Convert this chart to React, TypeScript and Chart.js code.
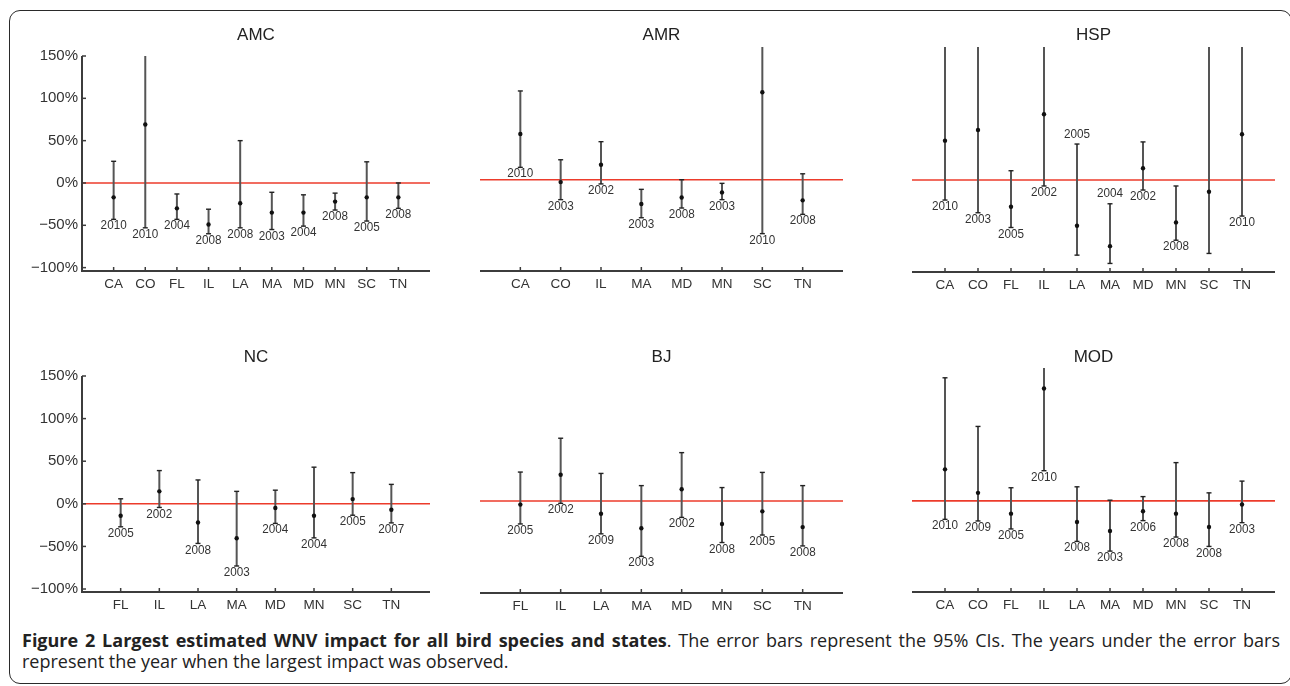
import React, { useEffect, useRef } from "react";
import { Chart, registerables } from "chart.js";

Chart.register(...registerables);

// ---------- data ----------
const statesAMC = ["CA", "CO", "FL", "IL", "LA", "MA", "MD", "MN", "SC", "TN"];
const estAMC = [-17, 69, -30, -49, -24, -35, -35, -22, -17, -17];
const lowAMC = [-43, -53, -43, -60, -53, -55, -51, -32, -45, -30];
const highAMC = [25.6, 160, -13, -31, 50, -11, -14, -12, 25, 0];
const yearsAMC = ["2010", "2010", "2004", "2008", "2008", "2003", "2004", "2008", "2005", "2008"];

const statesAMR = ["CA", "CO", "IL", "MA", "MD", "MN", "SC", "TN"];
const estAMR = [54, -2.8, 17.7, -28.7, -21, -15, 103.5, -24.4];
const lowAMR = [14.6, -23.6, -5, -45, -33.5, -23.6, -63.8, -41];
const highAMR = [105, 23.6, 45, -11.4, 0, -4.3, 200, 7];
const yearsAMR = ["2010", "2003", "2002", "2003", "2008", "2003", "2010", "2008"];

const statesHSP = ["CA", "CO", "FL", "IL", "LA", "MA", "MD", "MN", "SC", "TN"];
const estHSP = [46.5, 59, -31.5, 77.6, -54, -78, 14, -50, -13.8, 54];
const lowHSP = [-23.6, -38.6, -56, -7, -88.6, -98.4, -11.8, -71, -86.6, -42.5];
const highHSP = [200, 200, 11, 200, 42.5, -28, 45, -7, 200, 200];
const yearsHSP = ["2010", "2003", "2005", "2002", "2005", "2004", "2002", "2008", "", "2010"];

const statesNC = ["FL", "IL", "LA", "MA", "MD", "MN", "SC", "TN"];
const estNC = [-14, 14.6, -22, -40.5, -5, -14, 5.5, -7];
const lowNC = [-27, -4.3, -46.5, -73, -23, -40, -13.4, -22.4];
const highNC = [5.9, 39, 28, 14.6, 16, 43, 36.6, 22.8];
const yearsNC = ["2005", "2002", "2008", "2003", "2004", "2004", "2005", "2007"];

const statesBJ = ["FL", "IL", "LA", "MA", "MD", "MN", "SC", "TN"];
const estBJ = [-4.3, 30.7, -15, -32, 13.8, -27, -12.2, -30.7];
const lowBJ = [-27, -2.8, -38.6, -65, -19.3, -48.8, -40, -52.8];
const highBJ = [33.9, 73.6, 32.3, 18, 56.7, 15.7, 33.5, 18];
const yearsBJ = ["2005", "2002", "2009", "2003", "2002", "2008", "2005", "2008"];

const statesMOD = ["CA", "CO", "FL", "IL", "LA", "MA", "MD", "MN", "SC", "TN"];
const estMOD = [37, 9.4, -15, 132, -24.8, -35.4, -12.2, -15, -30.7, -4.3];
const lowMOD = [-21.7, -23.6, -33, 35.4, -47.6, -59, -23.2, -42.5, -53.5, -25.6];
const highMOD = [144.5, 87.4, 15.4, 200, 16.5, 0.8, 5, 44.9, 9.4, 23.2];
const yearsMOD = ["2010", "2009", "2005", "2010", "2008", "2003", "2006", "2008", "2008", "2003"];

const yTickValues = [-100, -50, 0, 50, 100, 150];

const captionBold = "Figure 2 Largest estimated WNV impact for all bird species and states";
const captionRest1 = ". The error bars represent the 95% CIs. The years under the error bars";
const captionRest2 = "represent the year when the largest impact was observed.";

// ---------- layout (not data) ----------
type Panel = {
  title: string;
  states: string[];
  est: number[];
  low: number[];
  high: number[];
  years: string[];
  left: number;
  top: number;
  width: number;
  height: number;
  padL: number;
  padR: number;
  yAxis: boolean;
  yMin: number;
  yMax: number;
  titleTop: number;
  titleBottom: number;
  xH: number;
};

const panels: Panel[] = [
  { title: "AMC", states: statesAMC, est: estAMC, low: lowAMC, high: highAMC, years: yearsAMC,
    left: 0, top: 10, width: 440, height: 290, padL: 0, padR: 10, yAxis: true, yMin: -104, yMax: 150,
    titleTop: 14.8, titleBottom: 10.8, xH: 29 },
  { title: "AMR", states: statesAMR, est: estAMR, low: lowAMR, high: highAMR, years: yearsAMR,
    left: 440, top: 10, width: 430, height: 290, padL: 40, padR: 27, yAxis: false, yMin: -108, yMax: 157,
    titleTop: 14.8, titleBottom: 1.8, xH: 29 },
  { title: "HSP", states: statesHSP, est: estHSP, low: lowHSP, high: highHSP, years: yearsHSP,
    left: 860, top: 10, width: 430, height: 290, padL: 52, padR: 15, yAxis: false, yMin: -108.5, yMax: 157,
    titleTop: 14.8, titleBottom: 1.8, xH: 28 },
  { title: "NC", states: statesNC, est: estNC, low: lowNC, high: highNC, years: yearsNC,
    left: 0, top: 330, width: 440, height: 290, padL: 0, padR: 10, yAxis: true, yMin: -103.5, yMax: 150,
    titleTop: 16.8, titleBottom: 8.8, xH: 28 },
  { title: "BJ", states: statesBJ, est: estBJ, low: lowBJ, high: highBJ, years: yearsBJ,
    left: 440, top: 330, width: 430, height: 290, padL: 40, padR: 27, yAxis: false, yMin: -108, yMax: 156,
    titleTop: 16.8, titleBottom: 0.8, xH: 27 },
  { title: "MOD", states: statesMOD, est: estMOD, low: lowMOD, high: highMOD, years: yearsMOD,
    left: 860, top: 330, width: 430, height: 290, padL: 52, padR: 15, yAxis: false, yMin: -107, yMax: 156,
    titleTop: 16.8, titleBottom: 0.8, xH: 28 },
];

const FONT = '"Liberation Sans", Arial, sans-serif';
const fmtPct = (v: number) => (v < 0 ? "\u2212" + Math.abs(v) : String(v)) + "%";

function makePlugin(p: Panel) {
  return {
    id: "wnvErrorBars",
    beforeDatasetsDraw(chart: any) {
      const { ctx, chartArea: a, scales } = chart;
      const x = scales.x;
      const y = scales.y;
      ctx.save();
      // zero reference line
      const y0 = y.getPixelForValue(0);
      ctx.strokeStyle = "#ec3b2b";
      ctx.lineWidth = 1.6;
      ctx.beginPath();
      ctx.moveTo(a.left, y0);
      ctx.lineTo(a.right, y0);
      ctx.stroke();

      // axes
      ctx.strokeStyle = "#3c3c3c";
      ctx.lineWidth = 2;
      ctx.beginPath();
      ctx.moveTo(a.left - (p.yAxis ? 1 : 0), a.bottom);
      ctx.lineTo(a.right, a.bottom);
      ctx.stroke();
      ctx.lineWidth = 1.5;
      p.states.forEach((_, i) => {
        const px = x.getPixelForValue(i + 1);
        ctx.beginPath();
        ctx.moveTo(px, a.bottom);
        ctx.lineTo(px, a.bottom - 4);
        ctx.stroke();
      });
      if (p.yAxis) {
        ctx.lineWidth = 2;
        ctx.beginPath();
        ctx.moveTo(a.left, y.getPixelForValue(yTickValues[yTickValues.length - 1]));
        ctx.lineTo(a.left, a.bottom);
        ctx.stroke();
        ctx.lineWidth = 1.5;
        yTickValues.forEach((v) => {
          const py = y.getPixelForValue(v);
          ctx.beginPath();
          ctx.moveTo(a.left, py);
          ctx.lineTo(a.left + 4, py);
          ctx.stroke();
        });
      }

      // error bars
      p.states.forEach((_, i) => {
        const px = x.getPixelForValue(i + 1);
        const hiClipped = p.high[i] > y.max;
        const pyHi = y.getPixelForValue(Math.min(p.high[i], y.max));
        const pyLo = y.getPixelForValue(Math.max(p.low[i], y.min));
        ctx.strokeStyle = "#555";
        ctx.lineWidth = 2;
        ctx.beginPath();
        ctx.moveTo(px, pyHi);
        ctx.lineTo(px, pyLo);
        ctx.stroke();
        ctx.strokeStyle = "#222";
        ctx.lineWidth = 1.4;
        if (!hiClipped) {
          ctx.beginPath();
          ctx.moveTo(px - 2.5, pyHi);
          ctx.lineTo(px + 2.5, pyHi);
          ctx.stroke();
        }
        ctx.beginPath();
        ctx.moveTo(px - 2.5, pyLo);
        ctx.lineTo(px + 2.5, pyLo);
        ctx.stroke();
      });
      ctx.restore();
    },
    afterDatasetsDraw(chart: any) {
      const { ctx, scales } = chart;
      const x = scales.x;
      const y = scales.y;
      ctx.save();
      ctx.font = `13px ${FONT}`;
      ctx.fillStyle = "#333";
      ctx.textAlign = "center";
      ctx.textBaseline = "middle";
      p.states.forEach((_, i) => {
        const yr = p.years[i];
        if (!yr) return;
        const px = x.getPixelForValue(i + 1);
        const above = p.low[i] < -80;
        const ly = above ? y.getPixelForValue(p.high[i]) - 10 : y.getPixelForValue(p.low[i]) + 6.5;
        ctx.save();
        ctx.translate(px, ly);
        ctx.scale(0.9, 1);
        ctx.fillText(yr, 0, 0);
        ctx.restore();
      });
      ctx.restore();
    },
  };
}

function PanelChart({ p }: { p: Panel }) {
  const ref = useRef<HTMLCanvasElement | null>(null);
  useEffect(() => {
    if (!ref.current) return;
    const n = p.states.length;
    const yScale: any = {
      type: "linear",
      display: p.yAxis,
      min: p.yMin,
      max: p.yMax,
      grid: { display: false, drawTicks: false },
      border: { display: false },
      afterBuildTicks: (s: any) => {
        s.ticks = yTickValues.map((v) => ({ value: v }));
      },
      ticks: {
        padding: 4,
        color: "#333",
        font: { family: FONT, size: 15 },
        callback: (v: any) => fmtPct(Number(v)),
      },
    };
    if (p.yAxis) {
      yScale.afterFit = (s: any) => {
        s.width = 82;
      };
    }
    const chart = new Chart(ref.current, {
      type: "scatter",
      data: {
        datasets: [
          {
            data: p.est.map((v, i) => ({ x: i + 1, y: v })),
            pointRadius: 2.2,
            pointBorderWidth: 0,
            backgroundColor: "#111",
            borderColor: "#111",
          },
        ],
      },
      options: {
        responsive: false,
        animation: false,
        events: [],
        layout: { padding: { left: p.padL, right: p.padR, top: 0, bottom: 0 } },
        plugins: {
          legend: { display: false },
          tooltip: { enabled: false },
          title: {
            display: true,
            text: p.title,
            fullSize: false,
            color: "#222",
            font: { family: FONT, size: 17, weight: "normal" },
            padding: { top: p.titleTop, bottom: p.titleBottom },
          },
        },
        scales: {
          x: {
            type: "linear",
            min: 0,
            max: n + 1,
            grid: { display: false, drawTicks: false },
            border: { display: false },
            afterBuildTicks: (s: any) => {
              s.ticks = p.states.map((_, i) => ({ value: i + 1 }));
            },
            afterFit: (s: any) => {
              s.height = p.xH;
            },
            ticks: {
              autoSkip: false,
              maxRotation: 0,
              minRotation: 0,
              padding: 5,
              color: "#333",
              font: { family: FONT, size: 13.5 },
              callback: (v: any) => p.states[Number(v) - 1] ?? "",
            },
          },
          y: yScale,
        },
      } as any,
      plugins: [makePlugin(p)],
    });
    return () => chart.destroy();
  }, [p]);
  return (
    <canvas
      ref={ref}
      width={p.width}
      height={p.height}
      style={{ position: "absolute", left: p.left, top: p.top, width: p.width, height: p.height }}
    />
  );
}

export default function App() {
  return (
    <div style={{ position: "absolute", left: 0, top: 0, width: 1290, height: 686, background: "#fff", overflow: "hidden" }}>
      <div
        style={{
          position: "absolute",
          left: 9,
          top: 10,
          width: 1283,
          height: 674,
          border: "1.5px solid #2a2a2a",
          borderRadius: 11,
          boxSizing: "border-box",
        }}
      />
      {panels.map((p) => (
        <PanelChart key={p.title} p={p} />
      ))}
      <div
        style={{
          position: "absolute",
          left: 22,
          top: 630,
          width: 1258,
          fontFamily: '"Open Sans", sans-serif',
          fontSize: 18,
          lineHeight: "21px",
          color: "#222",
        }}
      >
        <div style={{ textAlign: "justify", textAlignLast: "justify", whiteSpace: "nowrap" }}>
          <b>{captionBold}</b>
          {captionRest1}
        </div>
        <div>{captionRest2}</div>
      </div>
    </div>
  );
}
